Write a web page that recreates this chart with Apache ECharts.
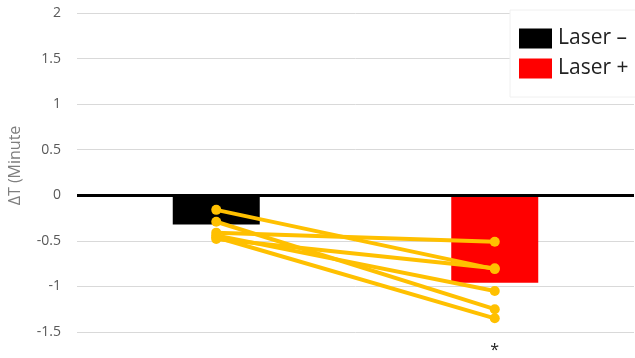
<!DOCTYPE html>
<html>
<head>
<meta charset="utf-8">
<script src="https://cdn.jsdelivr.net/npm/echarts@6/dist/echarts.min.js"></script>
<style>
  html, body { margin: 0; padding: 0; background: #fff; }
  #chart { width: 635px; height: 358px; }
</style>
</head>
<body>
<div id="chart"></div>
<script>
// Group labels and the marks drawn under each group
const categories = ['Laser –', 'Laser +'];
const tickLabels = ['', '*'];
const barMeans = [-0.32, -0.96];

// Per-subject ΔT without and with laser (paired points)
const laserOff = [-0.16, -0.29, -0.41, -0.48, -0.44, -0.46];
const laserOn  = [-0.81, -1.25, -0.51, -0.80, -1.05, -1.35];

// Y-axis range and step
const yMin = -1.5, yMax = 2, yStep = 0.5;

const chart = echarts.init(document.getElementById('chart'), null, { renderer: 'canvas' });

const font = '"Open Sans", "Noto Sans", sans-serif';

const barSeries = categories.map((name, i) => ({
  name: name,
  type: 'bar',
  data: categories.map((_, j) => (j === i ? barMeans[i] : '-')),
  barWidth: 87,
  barGap: '-100%',
  itemStyle: { color: i === 0 ? '#000000' : '#ff0000' },
  z: 2,
  markLine: i === 0 ? {
    silent: true,
    symbol: 'none',
    label: { show: false },
    lineStyle: { color: '#000', width: 3, type: 'solid' },
    data: [{ yAxis: 0 }],
    z: 3
  } : undefined
}));

const pairSeries = laserOff.map((v, k) => ({
  type: 'line',
  data: [v, laserOn[k]],
  symbol: 'circle',
  symbolSize: 10,
  lineStyle: { color: '#ffc000', width: 4 },
  itemStyle: { color: '#ffc000' },
  z: 5,
  silent: true
}));

chart.setOption({
  animation: false,
  backgroundColor: '#ffffff',
  grid: { left: 77, right: 1, top: 13, bottom: 26, outerBoundsMode: 'none' },
  legend: {
    data: categories,
    left: 510,
    top: 10,
    orient: 'vertical',
    padding: [18, 12, 18, 9],
    backgroundColor: '#ffffff',
    borderColor: '#f0f0f0',
    borderWidth: 1,
    itemWidth: 33,
    itemHeight: 20,
    itemGap: 9,
    icon: 'rect',
    textStyle: { fontFamily: font, fontSize: 21, color: '#222', padding: [0, 0, 0, 1] },
    z: 10
  },
  xAxis: {
    type: 'category',
    data: categories,
    axisLine: { show: false },
    axisTick: { show: false },
    axisLabel: {
      formatter: (v, i) => tickLabels[i],
      margin: 10,
      fontFamily: font,
      fontSize: 16,
      color: '#222'
    }
  },
  yAxis: {
    type: 'value',
    min: yMin,
    max: yMax,
    interval: yStep,
    name: 'ΔT (Minute',
    nameLocation: 'middle',
    nameGap: 54,
    nameTextStyle: { fontFamily: font, fontSize: 16, color: '#7f7f7f', padding: [0, 0, 0, 14] },
    axisLine: { show: false },
    axisTick: { show: false },
    axisLabel: {
      margin: 16,
      fontFamily: font,
      fontSize: 14,
      color: '#595959'
    },
    splitLine: { lineStyle: { color: '#d9d9d9', width: 1 } }
  },
  series: barSeries.concat(pairSeries)
});
</script>
</body>
</html>
